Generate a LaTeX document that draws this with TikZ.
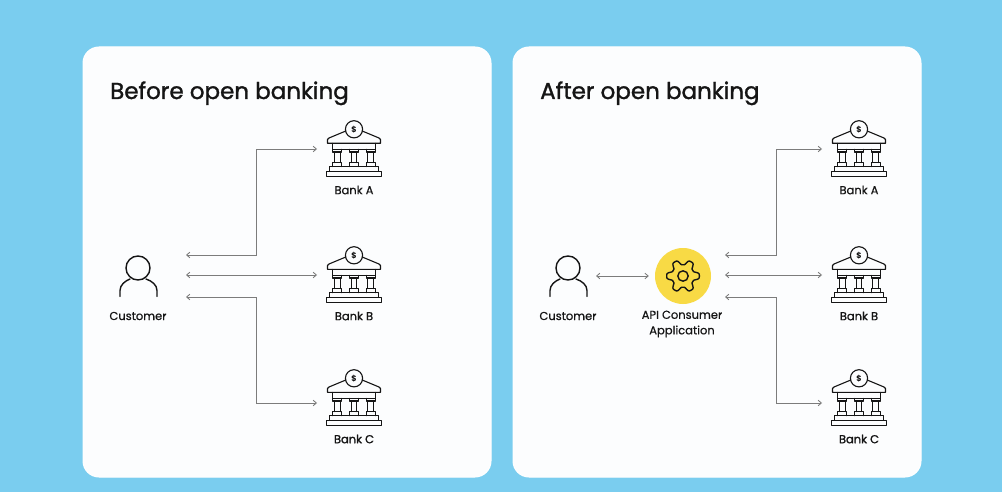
\documentclass[tikz,border=0pt]{standalone}
\usepackage{fontspec}
\setmainfont{Poppins}
\newfontfamily\titlefont[FakeBold=1.3]{Poppins}
\newfontfamily\lblfont[FakeBold=0.6]{Poppins}
\newfontfamily\boldlabel[FakeBold=1.5]{Poppins}
\usetikzlibrary{arrows.meta}
\definecolor{skybg}{HTML}{7ACDEF}
\definecolor{cardbg}{HTML}{FCFDFE}
\definecolor{ink}{HTML}{151515}
\definecolor{wire}{HTML}{7C7C7C}
\definecolor{sun}{HTML}{F8DA45}
\tikzset{
  card/.style={fill=cardbg,draw=white,line width=1pt,rounded corners=16pt},
  heading/.style={anchor=base west,font=\titlefont\fontsize{23}{23}\selectfont,text=ink,inner sep=0pt},
  label/.style={font=\lblfont\fontsize{11.5}{15.5}\selectfont,text=ink,align=center,inner sep=0pt},
  anchorbox/.style={minimum width=#1,minimum height=44pt,inner sep=0pt,outer sep=0pt},
  link/.style={draw=wire,line width=0.85pt,{Straight Barb[length=3.2pt,width=5.5pt]}-{Straight Barb[length=3.2pt,width=5.5pt]}},
  icon/.style={draw=ink,line width=1.1pt,line join=round,line cap=round},
  bank/.pic={
    \draw[icon] (0,-19.7) circle (8.6);
    \node[font=\fontsize{8}{8}\selectfont\bfseries,text=ink,inner sep=0pt] at (0,-19.5) {\$};
    \draw[icon] (-8.2,-18) -- (-25,-11) -- (-26.5,-9.5) -- (-26.5,-5.7) -- (26.5,-5.7) -- (26.5,-9.5) -- (25,-11) -- (8.2,-18);
    \draw[icon] (-21.7,-5.7) -- (-21.7,0.3) -- (21.7,0.3) -- (21.7,-5.7);
    \foreach \c in {-16.7,0,16.7}{
      \draw[icon] (\c-4.5,0.3) -- (\c-4.5,3) -- (\c+4.5,3) -- (\c+4.5,0.3);
      \draw[icon] (\c-2.8,3) -- (\c-2.8,13.5);
      \draw[icon] (\c+2.8,3) -- (\c+2.8,13.5);
      \draw[icon] (\c-4.5,17.7) -- (\c-4.5,13.5) -- (\c+4.5,13.5) -- (\c+4.5,17.7);
    }
    \draw[icon] (-24.5,17.7) rectangle (24.5,22.7);
    \draw[icon] (-27.5,22.7) rectangle (27.5,27.7);
  },
  person/.pic={
    \draw[icon,line width=1.4pt] (0,-7) circle (12);
    \draw[icon,line width=1.4pt] (-18,21.5) -- (-18,15.5) .. controls (-18,10) and (-13,6) .. (-8,4);
    \draw[icon,line width=1.4pt] (19,21.5) -- (19,15.5) .. controls (19,10) and (14,6) .. (8,4);
  },
  gear/.pic={
    \fill[sun] (0,0) circle (28);
    \draw[icon,line width=1.4pt,line cap=butt] plot[domain=0:360,samples=181] (\x:{13.8+2.9*cos(6*\x)-0.4*cos(18*\x)}) -- cycle;
    \draw[icon,line width=1.4pt] (0,0) circle (5.2);
  }
}
\begin{document}
\begin{tikzpicture}[x=1pt,y=-1pt]
\useasboundingbox (0,0) rectangle (1002,492);
\fill[skybg] (0,0) rectangle (1002,492);

\draw[card] (83,47) rectangle (491,477);
\draw[card] (513,47) rectangle (921,477);

\node[heading] (titleL) at (110,99) {Before open banking};
\node[heading] (titleR) at (540,99) {After open banking};

% Left panel
\pic at (138,275) {person};
\node[anchorbox=96pt] (custL) at (138,275) {};
\node[label] (custLt) at (138,316) {Customer};
\foreach \n/\y/\iy in {A/149/149,B/275/275,C/403/398}{
  \pic at (354,\iy) {bank};
  \node[anchorbox=74pt] (L\n) at (354,\y) {};
}
\node[label] (LAt) at (354,190) {Bank A};
\node[label] (LBt) at (354,316) {Bank B};
\node[label,font=\boldlabel\fontsize{11.5}{15.5}\selectfont] (LCt) at (354,439) {Bank C};

\coordinate (LupA) at ([yshift=20pt]custL.east);
\coordinate (LdnC) at ([yshift=-22pt]custL.east);
\coordinate (LelbA) at (256,255);
\coordinate (LelbC) at (256,297);
\draw[link] (LupA) -- (LelbA) |- (LA.west);
\draw[link] (custL.east) -- (LB.west);
\draw[link] (LdnC) -- (LelbC) |- (LC.west);

% Right panel
\pic at (568,275) {person};
\node[anchorbox=56pt] (custR) at (568,276) {};
\node[label] (custRt) at (568,316) {Customer};
\pic at (683,276) {gear};
\node[minimum size=68pt,circle,inner sep=0pt] (api) at (683,276) {};
\node[label] (apit) at (682,324) {API Consumer\\Application};
\foreach \n/\y/\iy in {A/149/149,B/275/275,C/403/398}{
  \pic at (859,\iy) {bank};
  \node[anchorbox=74pt] (R\n) at (859,\y) {};
}
\node[label] (RAt) at (859,190) {Bank A};
\node[label] (RBt) at (859,316) {Bank B};
\node[label,font=\boldlabel\fontsize{11.5}{15.5}\selectfont] (RCt) at (859,439) {Bank C};

\coordinate (RupA) at (725,255);
\coordinate (RdnC) at (725,297);
\coordinate (RelbA) at (776,255);
\coordinate (RelbC) at (776,297);
\coordinate (RmidB) at (725,275);
\draw[link] (custR.east) -- (api.west);
\draw[link] (RupA) -- (RelbA) |- (RA.west);
\draw[link] (RmidB) -- (RB.west);
\draw[link] (RdnC) -- (RelbC) |- (RC.west);
\end{tikzpicture}
\end{document}
